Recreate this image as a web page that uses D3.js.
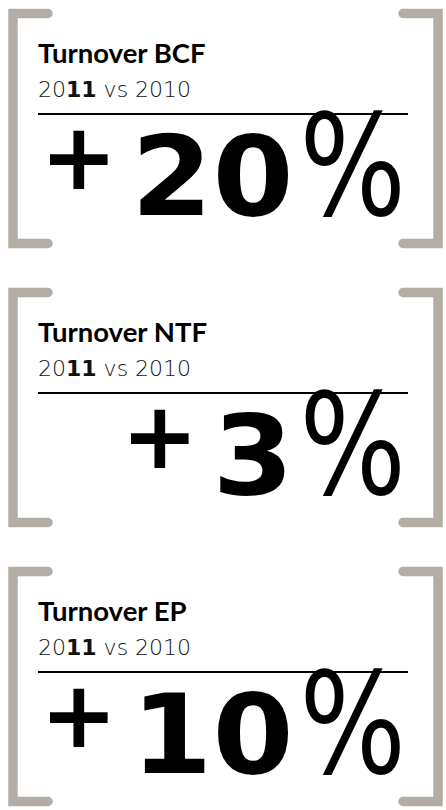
<!DOCTYPE html>
<html><head><meta charset="utf-8">
<script src="https://cdn.jsdelivr.net/npm/d3@7"></script>
<style>body{margin:0;background:#fff;} svg{display:block;}</style>
</head><body><svg id="c" width="446" height="810"></svg>
<script>
// ---- data ----
const categories = ["Turnover BCF", "Turnover NTF", "Turnover EP"];
const growthPct = [20, 3, 10];
const yearCurrent = "2011";
const yearPrevious = "2010";

// ---- layout ----
const svg = d3.select("#c");
const y = d3.scaleBand().domain(categories).range([9, 806]).paddingInner(40 / 279).paddingOuter(0);
const x = d3.scaleLinear().domain([0, 1]).range([38, 408]); // content area
const bh = y.bandwidth();
const bracketColor = "#b4ada6";

const rows = categories.map((c, i) => ({ title: c, value: growthPct[i] }));
const panel = svg.selectAll("g.panel").data(rows).join("g")
  .attr("class", "panel")
  .attr("transform", d => `translate(0,${y(d.title)})`);

// brackets
panel.append("path")
  .attr("d", `M48,4.5H13V${bh - 4.5}H48`)
  .attr("fill", "none").attr("stroke", bracketColor)
  .attr("stroke-width", 9.5).attr("stroke-linecap", "round").attr("stroke-linejoin", "miter");
panel.append("path")
  .attr("d", `M403,4.5H438V${bh - 4.5}H403`)
  .attr("fill", "none").attr("stroke", bracketColor)
  .attr("stroke-width", 9.5).attr("stroke-linecap", "round").attr("stroke-linejoin", "miter");

// title
panel.append("text")
  .attr("x", x(0)).attr("y", 54)
  .attr("font-family", "Lato, 'Open Sans', sans-serif")
  .attr("font-weight", 700).attr("font-size", 27.5).attr("fill", "#000")
  .text(d => d.title);

// subtitle
const sub = panel.append("text")
  .attr("x", x(0)).attr("y", 88)
  .attr("font-family", "'DejaVu Sans', sans-serif")
  .attr("font-size", 22).attr("fill", "#111");
sub.append("tspan").attr("font-weight", 200).text(yearCurrent.slice(0, 2));
sub.append("tspan").attr("font-weight", 700).text(yearCurrent.slice(2));
sub.append("tspan").attr("font-weight", 200).text(" vs " + yearPrevious);

// rule
panel.append("line")
  .attr("x1", x(0)).attr("x2", x(1)).attr("y1", 105).attr("y2", 105)
  .attr("stroke", "#000").attr("stroke-width", 2);

// big number: "+", value, "%" laid out right-to-left
const rightEdge = 406, baseline = 206, pctScaleX = 0.8, valScaleX = 1.06;
panel.each(function (d) {
  const g = d3.select(this).append("g").attr("transform", `translate(0,${baseline})`);
  const pct = g.append("text")
    .attr("text-anchor", "end")
    .attr("transform", `translate(${rightEdge},0) scale(${pctScaleX},1)`)
    .attr("font-family", "'DejaVu Sans', sans-serif").attr("font-weight", 400)
    .attr("font-size", 140).attr("fill", "#000")
    .text("%");
  const pctW = pct.node().getComputedTextLength() * pctScaleX;
  const valEnd = rightEdge - pctW - 6;
  const val = g.append("text")
    .attr("text-anchor", "end")
    .attr("transform", `translate(${valEnd},0) scale(${valScaleX},1)`)
    .attr("font-family", "'DejaVu Sans', sans-serif").attr("font-weight", 700)
    .attr("font-size", 110).attr("fill", "#000")
    .text(d.value);
  const valW = val.node().getComputedTextLength() * valScaleX;
  g.append("text")
    .attr("text-anchor", "end")
    .attr("x", valEnd - valW - 14)
    .attr("y", -26)
    .attr("font-family", "'DejaVu Sans', sans-serif").attr("font-weight", 700)
    .attr("font-size", 92).attr("fill", "#000")
    .text("+");
});
</script></body></html>
